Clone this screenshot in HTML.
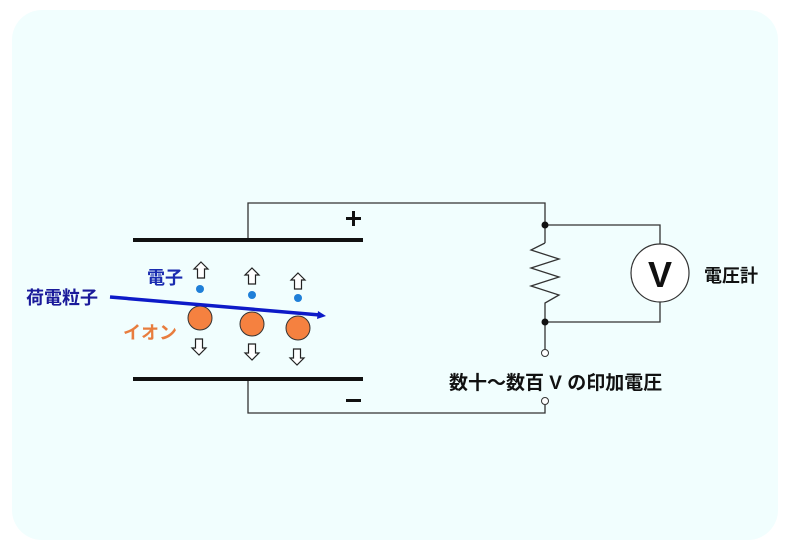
<!DOCTYPE html>
<html><head><meta charset="utf-8"><style>
body{margin:0;background:#fff;}
svg{display:block}
text{font-family:"Liberation Sans","Noto Sans CJK JP",sans-serif;font-weight:bold}
</style></head><body>
<svg width="788" height="549" viewBox="0 0 788 549">
<rect x="12" y="10" width="766" height="530" rx="30" fill="#f1fefe"/>
<defs>
<path id="up" d="M0,-8 L7,-1 L3.5,-1 L3.5,8 L-3.5,8 L-3.5,-1 L-7,-1 Z" fill="#fff" stroke="#222" stroke-width="1.2"/>
</defs>
<g stroke="#333" stroke-width="1.3" fill="none">
<polyline points="248,240 248,203 545,203 545,243"/>
<polyline points="248,379 248,413 545,413 545,405"/>
<polyline points="545,243 531,250 559,259 531,268 559,277 531,286 559,295 545,303 545,322 545,349"/>
<polyline points="545,225 660,225 660,244"/>
<polyline points="660,302 660,322 545,322"/>
</g>
<line x1="133" y1="240" x2="363" y2="240" stroke="#111" stroke-width="4"/>
<line x1="133" y1="379" x2="363" y2="379" stroke="#111" stroke-width="4"/>
<rect x="346" y="217" width="15" height="3" fill="#111"/>
<rect x="352" y="211" width="3" height="15" fill="#111"/>
<rect x="346" y="399" width="15" height="3" fill="#111"/>
<circle cx="545" cy="225" r="3.5" fill="#111"/>
<circle cx="545" cy="322" r="3.5" fill="#111"/>
<circle cx="545" cy="353" r="3.5" fill="#fff" stroke="#333" stroke-width="1"/>
<circle cx="545" cy="401" r="3.5" fill="#fff" stroke="#333" stroke-width="1"/>
<circle cx="660" cy="273" r="29" fill="#fff" stroke="#333" stroke-width="1.2"/>
<text x="660" y="287" font-size="36" text-anchor="middle" fill="#111">V</text>
<text x="704" y="282" font-size="18" fill="#111">電圧計</text>
<text x="449" y="389" font-size="19" fill="#111">数十～数百 V の印加電圧</text>
<use href="#up" x="201" y="270"/>
<use href="#up" x="252" y="276"/>
<use href="#up" x="298" y="281"/>
<use href="#up" transform="translate(199,347) rotate(180)"/>
<use href="#up" transform="translate(252,352) rotate(180)"/>
<use href="#up" transform="translate(297,357) rotate(180)"/>
<g fill="#1f7fd8"><circle cx="200" cy="289" r="4"/><circle cx="252" cy="295" r="4"/><circle cx="298" cy="298" r="4"/></g>
<g fill="#f58140" stroke="#333" stroke-width="1"><circle cx="200" cy="318" r="12"/><circle cx="252" cy="324" r="12"/><circle cx="298" cy="328" r="12"/></g>
<line x1="110" y1="297" x2="320" y2="315" stroke="#0d1ac8" stroke-width="3.5"/>
<polygon points="326,316 318,311 317,319" fill="#0d1ac8"/>
<text x="26" y="304" font-size="18" fill="#1a1a9a">荷電粒子</text>
<text x="147" y="284" font-size="18" fill="#1a2bb0">電子</text>
<text x="123" y="339" font-size="18" fill="#e87d3e">イオン</text>
</svg>
</body></html>
